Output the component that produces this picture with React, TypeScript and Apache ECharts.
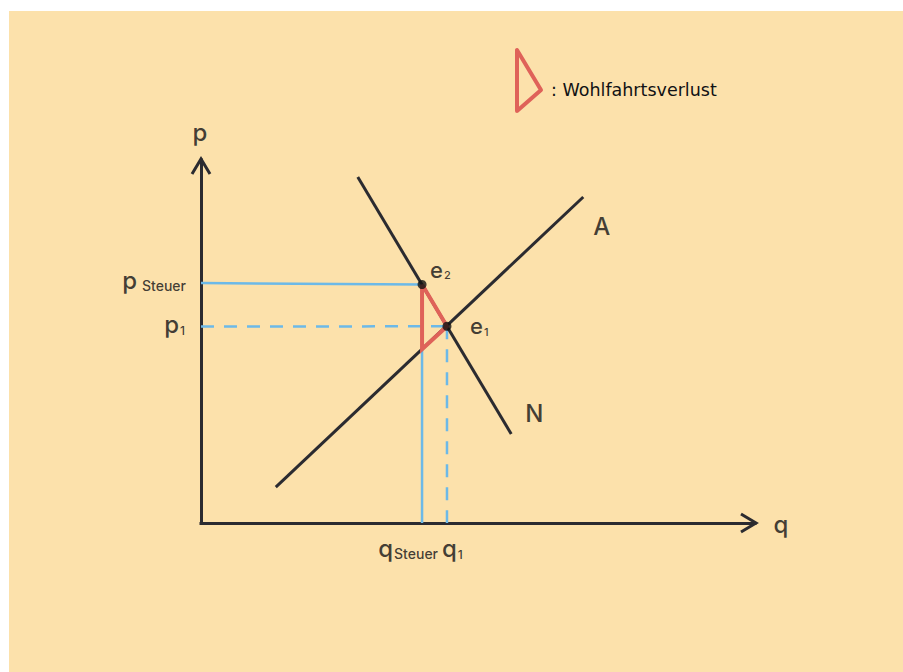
import React, { useEffect, useRef } from "react";
import * as echarts from "echarts";

// Curves (q, p)
const supplyLine: number[][] = [[13.5, 9.9], [69.0, 89.8]];
const demandLine: number[][] = [[28.3, 95.3], [56.0, 24.5]];
// Equilibria
const e1Point: number[] = [44.4, 54.2];
const e2Point: number[] = [39.9, 65.7];
const lossBottom: number[] = [39.9, 47.9];
// Guide lines
const pTaxGuide: number[][] = [[0, 66.1], [39.9, 65.7]];
const p1Guide: number[][] = [[0, 54.1], [44.4, 54.2]];
const qTaxGuide: number[][] = [[39.9, 65.7], [39.9, 0]];
const q1Guide: number[][] = [[44.4, 54.2], [44.4, 0]];
// Axis extents
const qMax = 100;
const pMax = 100;

const FONT = "Inter";
const INK = "#111114";
const LINE = "#2b2b30";
const BLUE = "#6cb9e8";
const RED = "#df6259";
const BG = "#fce1ab";

export default function App() {
  const ref = useRef<HTMLDivElement>(null);
  useEffect(() => {
    if (!ref.current) return;
    const chart = echarts.init(ref.current, undefined, { renderer: "svg" });
    const t = (fontSize: number, lineHeight: number, extra: any = {}) => ({
      fontSize,
      lineHeight,
      fontFamily: FONT,
      fontWeight: 500,
      color: INK,
      verticalAlign: "bottom",
      ...extra,
    });
    const richBase = {
      b: t(24, 28),
      e: t(22, 28),
      s: t(14, 20, { padding: [0, 0, 0, 1] }),
      sp: t(14, 20, { padding: [0, 0, 0, 5] }),
      d: t(12, 13, { padding: [0, 0, 0, 1] }),
      de: t(11, 16, { padding: [0, 0, 0, 1] }),
    };
    const lbl = (value: number[], text: string, align: string, offset: number[]) => ({
      value,
      label: {
        show: true,
        position: "inside",
        align,
        verticalAlign: "middle",
        offset,
        formatter: text,
        rich: richBase,
      },
    });
    const option: any = {
      animation: false,
      backgroundColor: BG,
      grid: { left: 192, top: 149, width: 554, height: 363 },
      xAxis: {
        type: "value",
        min: 0,
        max: qMax,
        axisLine: { show: true, lineStyle: { color: LINE, width: 3, cap: "square" } },
        axisTick: { show: false },
        axisLabel: { show: false },
        splitLine: { show: false },
      },
      yAxis: {
        type: "value",
        min: 0,
        max: pMax,
        axisLine: { show: true, lineStyle: { color: LINE, width: 3, cap: "square" } },
        axisTick: { show: false },
        axisLabel: { show: false },
        splitLine: { show: false },
      },
      graphic: [
        {
          type: "polygon",
          shape: { points: [[508, 39], [508, 100], [532, 79]] },
          style: { fill: "none", stroke: RED, lineWidth: 4, lineJoin: "round" },
        },
        {
          type: "text",
          x: 542,
          y: 79,
          style: {
            text: ": Wohlfahrtsverlust",
            fontSize: 17.5,
            fontFamily: "DejaVu Sans",
            fill: INK,
            align: "left",
            verticalAlign: "middle",
          },
        },
      ],
      series: [
        {
          type: "line",
          data: pTaxGuide,
          showSymbol: false,
          lineStyle: { color: BLUE, width: 2.5 },
          z: 2,
        },
        {
          type: "line",
          data: qTaxGuide,
          showSymbol: false,
          lineStyle: { color: BLUE, width: 2.5 },
          z: 2,
        },
        {
          type: "line",
          data: p1Guide,
          showSymbol: false,
          lineStyle: { color: BLUE, width: 2.5, type: [13, 10] },
          z: 2,
        },
        {
          type: "line",
          data: q1Guide,
          showSymbol: false,
          lineStyle: { color: BLUE, width: 2.5, type: [13, 10] },
          z: 2,
        },
        {
          type: "line",
          data: supplyLine,
          showSymbol: false,
          lineStyle: { color: LINE, width: 3 },
          z: 3,
        },
        {
          type: "line",
          data: demandLine,
          showSymbol: false,
          lineStyle: { color: LINE, width: 3 },
          z: 3,
        },
        {
          type: "line",
          data: [e2Point, e1Point, lossBottom, e2Point],
          showSymbol: false,
          lineStyle: { color: RED, width: 4, join: "miter" },
          z: 4,
        },
        {
          type: "scatter",
          data: [e1Point, e2Point],
          symbolSize: 9,
          itemStyle: { color: "#111" },
          z: 5,
        },
        {
          type: "custom",
          coordinateSystem: "cartesian2d",
          data: [[qMax, 0, 0], [0, pMax, 1]],
          renderItem: (params: any, api: any) => {
            const p = api.coord([api.value(0), api.value(1)]);
            const dir = api.value(2);
            const pts =
              dir === 0
                ? [[p[0] - 14, p[1] - 9], [p[0] + 1, p[1]], [p[0] - 14, p[1] + 9]]
                : [[p[0] - 9, p[1] + 14], [p[0], p[1] - 1], [p[0] + 9, p[1] + 14]];
            return {
              type: "polyline",
              shape: { points: pts },
              style: { stroke: LINE, lineWidth: 3, fill: null },
            };
          },
          z: 3,
        },
        {
          type: "scatter",
          symbolSize: 0,
          clip: false,
          silent: true,
          z: 6,
          data: [
            lbl(e2Point, "{e|e}{de|2}", "left", [8, -18]),
            lbl(e1Point, "{e|e}{de|1}", "left", [23, -3]),
            lbl(supplyLine[1], "{b|A}", "left", [10, 27]),
            lbl(demandLine[1], "{b|N}", "left", [14, -23]),
            lbl([0, pMax], "{b|p}", "center", [-1, -30]),
            lbl([qMax, 0], "{b|q}", "center", [26, -1]),
            lbl(pTaxGuide[0], "{b|p}{sp|Steuer}", "right", [-15, -5]),
            lbl(p1Guide[0], "{b|p}{d|1}", "right", [-16, -4]),
            lbl(qTaxGuide[1], "{b|q}{s|Steuer}", "right", [16, 23]),
            lbl(q1Guide[1], "{b|q}{d|1}", "left", [-5, 23]),
          ],
        },
      ],
    };
    chart.setOption(option);
    return () => chart.dispose();
  }, []);
  return (
    <div
      ref={ref}
      style={{ position: "absolute", left: 9, top: 11, width: 894, height: 661 }}
    />
  );
}
